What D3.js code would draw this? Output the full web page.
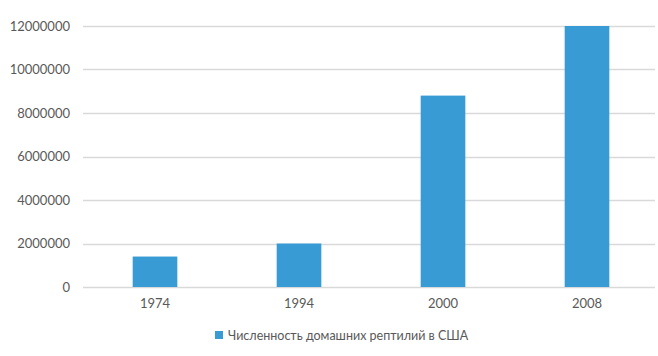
<!DOCTYPE html>
<html><head><meta charset="utf-8">
<script src="https://cdn.jsdelivr.net/npm/d3@7"></script>
<style>body{margin:0;background:#fff}text{font-family:Lato,"Open Sans",sans-serif;fill:#595959}</style>
</head><body>
<svg id="c" width="658" height="356"></svg>
<script>
const categories = ["1974","1994","2000","2008"];
const values = [1400000, 2000000, 8800000, 12000000];
const yTicks = [0,2000000,4000000,6000000,8000000,10000000,12000000];
const seriesName = "Численность домашних рептилий в США";

const svg = d3.select("#c");
const x = d3.scaleBand().domain(categories).range([83,659]).paddingInner(0.69).paddingOuter(0.345);
const y = d3.scaleLinear().domain([0,12000000]).range([287,26]);

const grid = svg.append("g");
grid.selectAll("line").data(yTicks).join("line")
  .attr("x1",83).attr("x2",655).attr("y1",d=>Math.round(y(d))+0.5).attr("y2",d=>Math.round(y(d))+0.5)
  .attr("stroke","#d9d9d9").attr("stroke-width",1.3);

const yAxis = d3.axisLeft(y).tickValues(yTicks).tickSize(0).tickPadding(0).tickFormat(d3.format("d"));
const ya = svg.append("g").attr("transform","translate(70,0)").call(yAxis);
ya.select(".domain").remove();
ya.selectAll("text").style("font-size","13px").attr("fill","#595959");

svg.append("g").selectAll("rect").data(values).join("rect")
  .attr("x",(d,i)=>x(categories[i])).attr("width",x.bandwidth())
  .attr("y",d=>y(d)).attr("height",d=>y(0)-y(d))
  .attr("fill","#389BD3");

const xAxis = d3.axisBottom(x).tickSize(0).tickPadding(0);
const xa = svg.append("g").attr("transform","translate(0,299)").call(xAxis);
xa.select(".domain").remove();
xa.selectAll("text").style("font-size","13px").attr("fill","#595959");

const lg = svg.append("g");
lg.append("rect").attr("x",215).attr("y",331).attr("width",8).attr("height",8).attr("fill","#389BD3");
lg.append("text").attr("x",228).attr("y",335.5).attr("dy","0.35em").style("font-size","12.5px").text(seriesName);
</script>
</body></html>
